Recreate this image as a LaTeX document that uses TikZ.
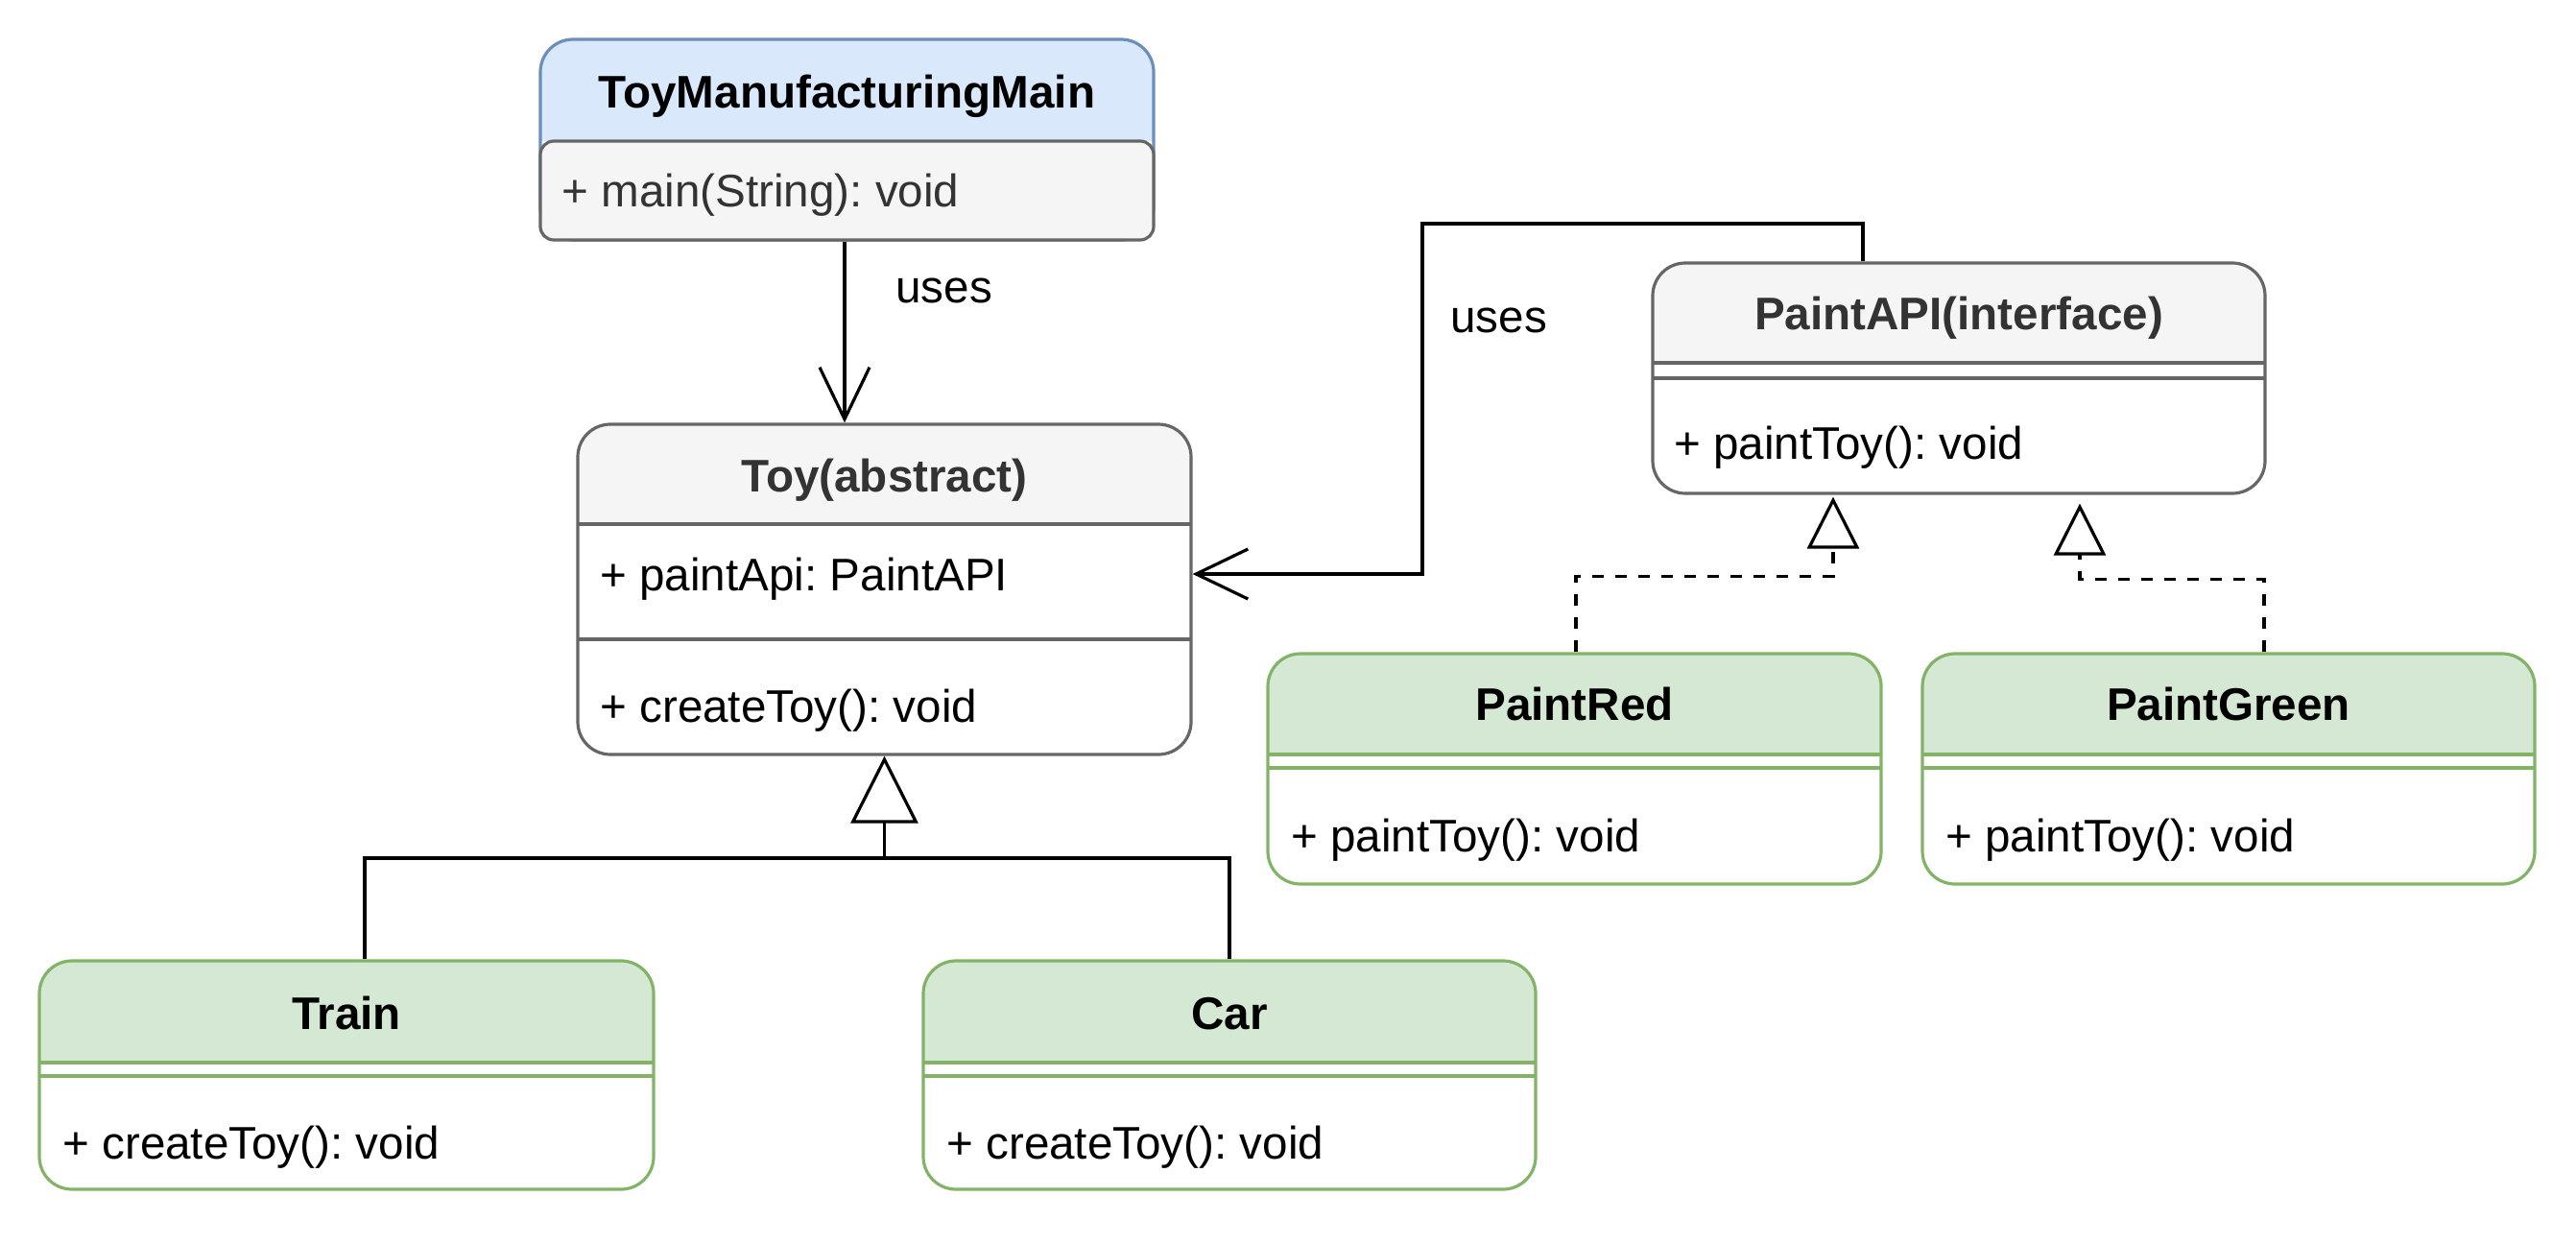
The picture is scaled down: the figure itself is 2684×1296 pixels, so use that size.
\documentclass[tikz,border=0pt]{standalone}
\usepackage{fontspec}
\setmainfont{Liberation Sans}
\usetikzlibrary{arrows.meta,fit,calc}
\definecolor{bluefill}{HTML}{DAE8FC}
\definecolor{bluedraw}{HTML}{6C8EBF}
\definecolor{greyfill}{HTML}{F5F5F5}
\definecolor{greydraw}{HTML}{666666}
\definecolor{greytext}{HTML}{333333}
\definecolor{greenfill}{HTML}{D5E8D4}
\definecolor{greendraw}{HTML}{82B366}
\newcommand\txtsize{\fontsize{23.8pt}{28pt}\selectfont}
\frenchspacing
\tikzset{
  boxline/.style={line width=1.6pt},
  classtitle/.style={font=\txtsize\bfseries, inner sep=0pt, anchor=base},
  member/.style={font=\txtsize, inner sep=0pt, anchor=base west},
  conn/.style={line width=1.6pt, draw=black},
  usesarrow/.style={conn, -{Straight Barb[length=27pt,width=26pt]}},
  inherit/.style={conn, -{Triangle[open,length=35pt,width=35pt]}},
  realize/.style={conn, dash pattern=on 6pt off 6pt, -{Triangle[open,length=27pt,width=27pt]}},
}
\newcommand\classframe[8]{%
  \begin{scope}
    \clip[rounded corners=17pt] (#2,#3) rectangle (#4,#5);
    \fill[white] (#2,#3) rectangle (#4,#5);
    \fill[#7] (#2,#3) rectangle (#4,#6);
  \end{scope}
  \node[fit={(#2,#3) (#4,#5)}, inner sep=0pt, draw=#8, boxline, rounded corners=17pt] (#1) {};
}
\begin{document}
\begin{tikzpicture}[x=0.5pt,y=-0.5pt]
\useasboundingbox (0,0) rectangle (2684,1296);

% ToyManufacturingMain
\classframe{main}{563}{41}{1202}{250}{147}{bluefill}{bluedraw}
\draw[greydraw, fill=greyfill, boxline, rounded corners=7pt] (563,147) rectangle (1202,250);
\node[classtitle] (mainT) at (882.5,112) {ToyManufacturingMain};
\node[member, text=greytext] (mainM) at (585,215) {+ main(String): void};

% Toy
\classframe{toy}{602}{442}{1241}{786}{546}{greyfill}{greydraw}
\draw[greydraw, boxline] (602,546) -- (1241,546);
\draw[greydraw, boxline] (602,666) -- (1241,666);
\node[classtitle, text=greytext] (toyT) at (921.5,512) {Toy(abstract)};
\node[member] (toyA) at (625,615) {+ paintApi: PaintAPI};
\node[member] (toyM) at (625,752) {+ createToy(): void};

% PaintAPI
\classframe{paint}{1722}{274}{2360}{514}{378}{greyfill}{greydraw}
\draw[greydraw, boxline] (1722,378) -- (2360,378);
\draw[greydraw, boxline] (1722,394) -- (2360,394);
\node[classtitle, text=greytext] (paintT) at (2041,343) {PaintAPI(interface)};
\node[member] (paintM) at (1744,478) {+ paintToy(): void};

% Train
\classframe{train}{41}{1001}{681}{1239}{1107}{greenfill}{greendraw}
\draw[greendraw, boxline] (41,1107) -- (681,1107);
\draw[greendraw, boxline] (41,1121) -- (681,1121);
\node[classtitle] (trainT) at (361,1072) {Train};
\node[member] (trainM) at (65,1207) {+ createToy(): void};

% Car
\classframe{car}{962}{1001}{1600}{1239}{1107}{greenfill}{greendraw}
\draw[greendraw, boxline] (962,1107) -- (1600,1107);
\draw[greendraw, boxline] (962,1121) -- (1600,1121);
\node[classtitle] (carT) at (1281,1072) {Car};
\node[member] (carM) at (986,1207) {+ createToy(): void};

% PaintRed
\classframe{red}{1321}{681}{1960}{921}{786}{greenfill}{greendraw}
\draw[greendraw, boxline] (1321,786) -- (1960,786);
\draw[greendraw, boxline] (1321,800) -- (1960,800);
\node[classtitle] (redT) at (1640.5,750) {PaintRed};
\node[member] (redM) at (1345,887) {+ paintToy(): void};

% PaintGreen
\classframe{green}{2003}{681}{2641}{921}{786}{greenfill}{greendraw}
\draw[greendraw, boxline] (2003,786) -- (2641,786);
\draw[greendraw, boxline] (2003,800) -- (2641,800);
\node[classtitle] (greenT) at (2322,750) {PaintGreen};
\node[member] (greenM) at (2027,887) {+ paintToy(): void};

% uses: main -> toy
\draw[usesarrow] ([xshift=-1.25pt]main.south) -- ([xshift=-1.25pt]main.south |- toy.north);
\node[member] (uses1) at (933,315) {uses};

% uses: paint -> toy
\draw[usesarrow] ([xshift=-50pt]paint.north) |- (1482,233) |- ([yshift=8pt]toy.east);
\node[member] (uses2) at (1511,346) {uses};

% inheritance
\coordinate (tj) at (921.5,894);
\draw[conn] ([xshift=9.5pt]train.north) |- (tj) -| (car.north);
\draw[inherit] (tj) -- (toy.south);

% realization
\coordinate (rtip) at ([xshift=-65.5pt,yshift=-1pt]paint.south);
\coordinate (gtip) at ([xshift=63pt,yshift=-4.5pt]paint.south);
\draw[realize] ([xshift=0.75pt]red.north) |- ($(rtip)+(0,83)$) -- (rtip);
\draw[realize] ([xshift=18.5pt]green.north) |- ($(gtip)+(0,79)$) -- (gtip);
\end{tikzpicture}
\end{document}
